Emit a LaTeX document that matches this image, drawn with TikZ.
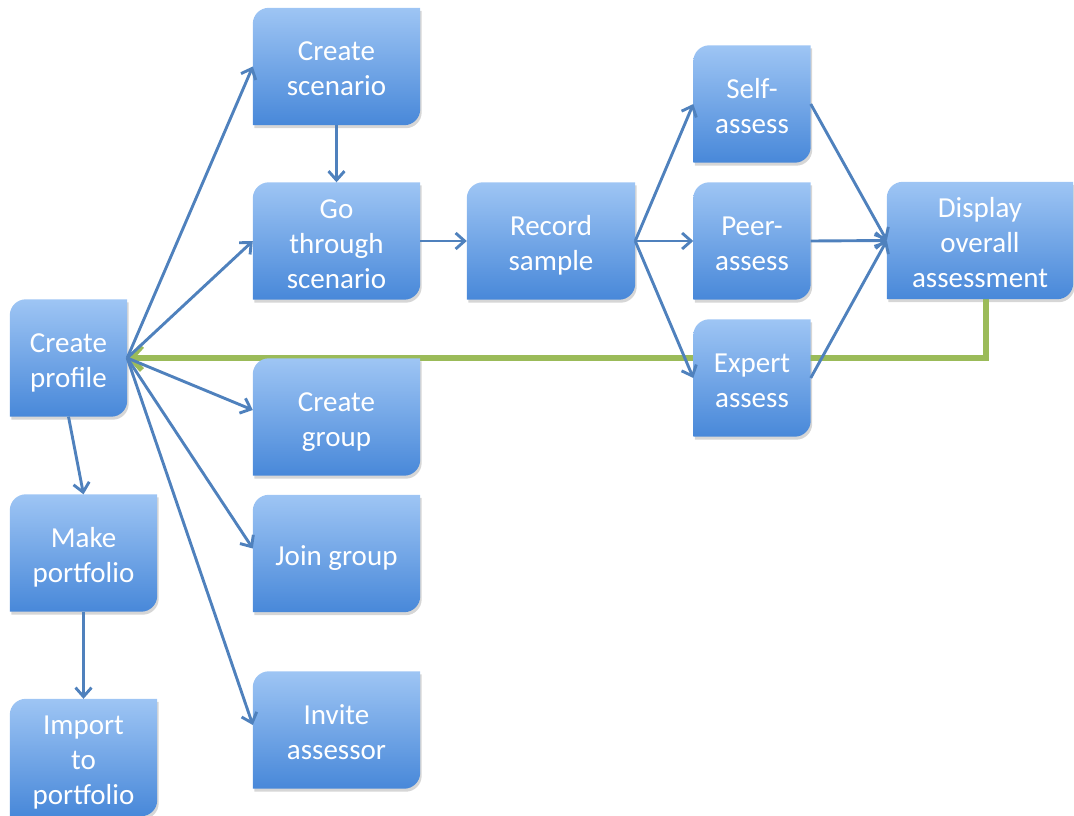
\documentclass[tikz,border=0pt]{standalone}
\usepackage{fontspec}
\setmainfont{Carlito}
\usetikzlibrary{arrows.meta,calc}
\pgfdeclarelayer{bbg}
\pgfdeclarelayer{bg}
\pgfsetlayers{bbg,bg,main}
\definecolor{boxtop}{RGB}{158,197,244}
\definecolor{boxbot}{RGB}{72,136,217}
\definecolor{arrowblue}{RGB}{79,129,189}
\definecolor{loopgreen}{RGB}{155,187,89}
\newcommand\boxtext[1]{\raisebox{-5pt}[\height][\depth]{\begin{tabular}{@{}c@{}}#1\end{tabular}}}
\newcommand\drawbox[1]{%
 \begin{pgfonlayer}{bbg}
 \fill[black,opacity=.16,transform canvas={xshift=1.5pt,yshift=-3pt}]
   ($(#1.north west)+(0,16)$) arc[start angle=180,end angle=270,radius=16]
   -- (#1.north east) -- ($(#1.south east)+(0,-16)$)
   arc[start angle=0,end angle=90,radius=16] -- (#1.south west) -- cycle;
 \end{pgfonlayer}
 \begin{pgfonlayer}{bg}
 \shade[top color=boxtop,bottom color=boxbot]
   ($(#1.north west)+(0,16)$) arc[start angle=180,end angle=270,radius=16]
   -- (#1.north east) -- ($(#1.south east)+(0,-16)$)
   arc[start angle=0,end angle=90,radius=16] -- (#1.south west) -- cycle;
 \end{pgfonlayer}}
\tikzset{
  flowbox/.style={minimum width=#1, minimum height=117pt, inner sep=0pt,
    text=white, font=\fontsize{29}{35}\selectfont},
  flowbox/.default=117pt,
  link/.style={draw=arrowblue, line width=2.9pt,
    -{Straight Barb[length=9pt,width=16pt]}},
  backlink/.style={draw=loopgreen, line width=5.5pt,
    -{Straight Barb[length=11pt,width=24pt]}}
}
\begin{document}
\begin{tikzpicture}[x=1pt,y=-1pt]
\useasboundingbox (0,0) rectangle (1074,816);
\node[flowbox] (cp) at (68.5,358) {\boxtext{Create\\profile}};
\node[flowbox=147pt] (mp) at (83.5,553) {\boxtext{Make\\portfolio}};
\node[flowbox=147pt] (ip) at (83.5,757.5) {\boxtext{Import\\to\\portfolio}};
\node[flowbox=167pt] (cs) at (336.5,66.5) {\boxtext{Create\\scenario}};
\node[flowbox=167pt] (gt) at (336.5,241) {\boxtext{Go\\through\\scenario}};
\node[flowbox=167pt] (cg) at (336.5,417) {\boxtext{Create\\group}};
\node[flowbox=167pt] (jg) at (336.5,553.5) {\boxtext{Join group}};
\node[flowbox=167pt] (ia) at (336.5,730) {\boxtext{Invite\\assessor}};
\node[flowbox=168pt] (rs) at (551,241) {\boxtext{Record\\sample}};
\node[flowbox] (sa) at (752,104) {\boxtext{Self-\\assess}};
\node[flowbox] (pa) at (752,241) {\boxtext{Peer-\\assess}};
\node[flowbox] (ea) at (752,378) {\boxtext{Expert\\assess}};
\node[flowbox=186pt] (da) at (980,240.5) {\boxtext{Display\\overall\\assessment}};
\foreach \n in {cp,mp,ip,cs,gt,cg,jg,ia,rs,sa,pa,ea,da}{\drawbox{\n}}
\begin{pgfonlayer}{bbg}
\draw[backlink] ($(da.south)+(6,0)$) |- (cp.east);
\end{pgfonlayer}
\draw[link] (cp.east) -- (cs.west);
\draw[link] (cp.east) -- (gt.west);
\draw[link] (cp.east) -- ($(cg.west)+(0,-7)$);
\draw[link] (cp.east) -- ($(jg.west)+(0,-5)$);
\draw[link] (cp.east) -- ($(ia.west)+(0,-5)$);
\draw[link] (cp.south) -- (mp.north);
\draw[link] (mp.south) -- (ip.north);
\draw[link] (cs.south) -- (gt.north);
\draw[link] (gt.east) -- (rs.west);
\draw[link] (rs.east) -- (sa.west);
\draw[link] (rs.east) -- (pa.west);
\draw[link] (rs.east) -- (ea.west);
\draw[link] (sa.east) -- (da.west);
\draw[link] (pa.east) -- (da.west);
\draw[link] (ea.east) -- (da.west);
\end{tikzpicture}
\end{document}
